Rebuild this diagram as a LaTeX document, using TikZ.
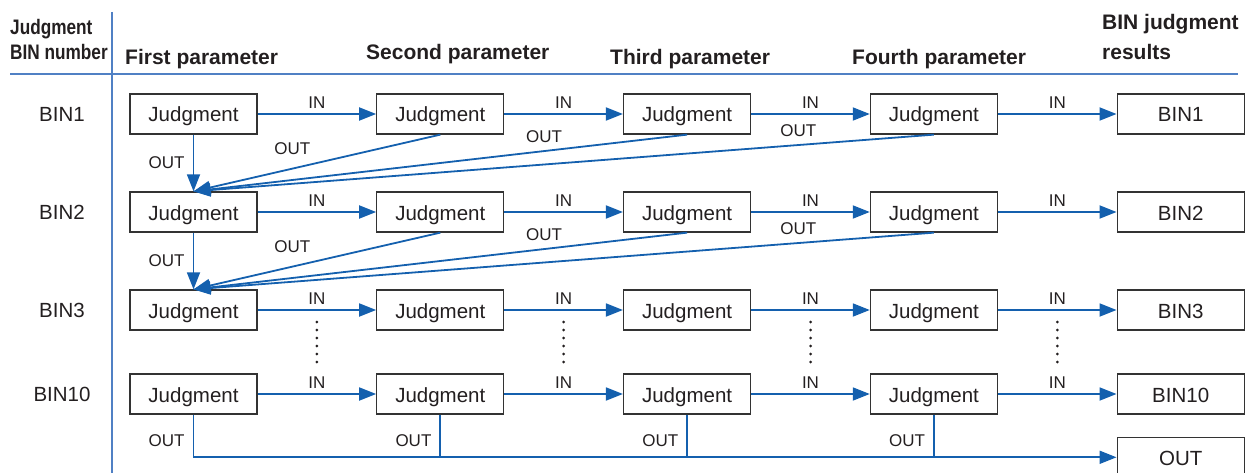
\documentclass[tikz,border=0pt]{standalone}
\usepackage{fontspec}
\setmainfont{Liberation Sans}
\newfontfamily\narrowsans[FakeStretch=0.82]{Liberation Sans}
\usepackage{xcolor}
\usepackage{tikz}
\usetikzlibrary{arrows.meta,positioning,calc}
\definecolor{bnink}{HTML}{231F20}
\definecolor{bnframe}{HTML}{333333}
\definecolor{bnblue}{HTML}{1460AE}
\definecolor{bnrule}{HTML}{5080C4}

\begin{document}
\begin{tikzpicture}[
  x=1pt,y=-1pt,
  node distance=22pt and 118.5pt,
  every node/.style={text=bnink,font=\fontsize{20.5}{24}\selectfont},
  box/.style={draw=bnframe,line width=1.3pt,minimum height=40pt,minimum width=127pt,inner sep=0pt,
    text height=18pt,text depth=2pt,fill=white},
  head/.style={font=\fontsize{21}{25}\selectfont\bfseries,anchor=base west,inner sep=0pt},
  tag/.style={font=\fontsize{17}{19}\selectfont,inner sep=2pt},
  arrow/.style={-{Triangle[length=17pt,width=13pt]},line width=1.8pt,color=bnblue},
  wire/.style={line width=1.8pt,color=bnblue},
  rule/.style={line width=1.8pt,color=bnrule},
  dots/.style={line width=3pt,line cap=round,dash pattern=on 0pt off 8pt,color=bnink}
]
\useasboundingbox (0,0) rectangle (1252,473);

% table rules
\draw[rule] (10,74) -- (1238,74);
\draw[rule] (112,12) -- (112,473);

% column headings
\node[head,anchor=south west,text depth=0pt,align=left,
  font=\fontsize{21}{25}\selectfont\narrowsans\bfseries] (hbin) at (10,60) {Judgment\\BIN number};
\node[head] (hfirst) at (125,65) {First parameter};
\node[head] (hsecond) at (366,60) {Second parameter};
\node[head] (hthird) at (610,65) {Third parameter};
\node[head] (hfourth) at (852,65) {Fourth parameter};
\node[head,anchor=south west,text depth=0pt,align=left,
  font=\fontsize{21}{30}\selectfont\bfseries] (hres) at (1102,60) {BIN judgment\\results};

% row labels
\node (lab1) at (62,114) {BIN1};
\node (lab2) at (62,212) {BIN2};
\node (lab3) at (62,310) {BIN3};
\node (lab10) at (62,394) {BIN10};

% judgment boxes
\node[box] (j1a) at (193.5,114) {Judgment};
\node[box,right=of j1a] (j1b) {Judgment};
\node[box,right=of j1b] (j1c) {Judgment};
\node[box,right=of j1c] (j1d) {Judgment};
\node[box,right=of j1d] (r1) {BIN1};

\node[box] (j2a) at (193.5,212) {Judgment};
\node[box,right=of j2a] (j2b) {Judgment};
\node[box,right=of j2b] (j2c) {Judgment};
\node[box,right=of j2c] (j2d) {Judgment};
\node[box,right=of j2d] (r2) {BIN2};

\node[box] (j3a) at (193.5,310) {Judgment};
\node[box,right=of j3a] (j3b) {Judgment};
\node[box,right=of j3b] (j3c) {Judgment};
\node[box,right=of j3c] (j3d) {Judgment};
\node[box,right=of j3d] (r3) {BIN3};

\node[box] (j10a) at (193.5,394) {Judgment};
\node[box,right=of j10a] (j10b) {Judgment};
\node[box,right=of j10b] (j10c) {Judgment};
\node[box,right=of j10c] (j10d) {Judgment};
\node[box,right=of j10d] (r10) {BIN10};
\node[box,below=of r10] (rout) {OUT};

% IN paths
\foreach \row/\res in {1/r1,2/r2,3/r3,10/r10}{
  \draw[arrow] (j\row a) -- node[tag,above=3pt]{IN} (j\row b);
  \draw[arrow] (j\row b) -- node[tag,above=3pt]{IN} (j\row c);
  \draw[arrow] (j\row c) -- node[tag,above=3pt]{IN} (j\row d);
  \draw[arrow] (j\row d) -- node[tag,above=3pt]{IN} (\res);
}

% OUT paths to the next BIN
\foreach \row/\next in {1/2,2/3}{
  \draw[arrow] (j\row a.south) -- node[tag,left=6pt]{OUT} (j\next a.north);
  \draw[arrow] (j\row b.south) -- node[tag,pos=0.6,above=11pt]{OUT} (j\next a.north);
  \draw[arrow] (j\row c.south) -- node[tag,pos=0.29,above=6pt]{OUT} (j\next a.north);
  \draw[arrow] (j\row d.south) -- node[tag,pos=0.183,above=5.5pt]{OUT} (j\next a.north);
}

% omitted rows
\foreach \left/\right in {j3a/j3b,j3b/j3c,j3c/j3d,j3d/r3}
  \draw[dots] ($(\left.east)!0.5!(\right.west)$) ++(0,12) -- ++(0,40);

% last BIN: OUT bus
\draw[arrow] (j10a.south) |- node[tag,pos=0.3,left=6pt]{OUT} (rout.west);
\draw[wire] (j10b.south) -- node[tag,pos=0.6,left=6pt]{OUT} (j10b.south |- rout.west);
\draw[wire] (j10c.south) -- node[tag,pos=0.6,left=6pt]{OUT} (j10c.south |- rout.west);
\draw[wire] (j10d.south) -- node[tag,pos=0.6,left=6pt]{OUT} (j10d.south |- rout.west);
\end{tikzpicture}
\end{document}
